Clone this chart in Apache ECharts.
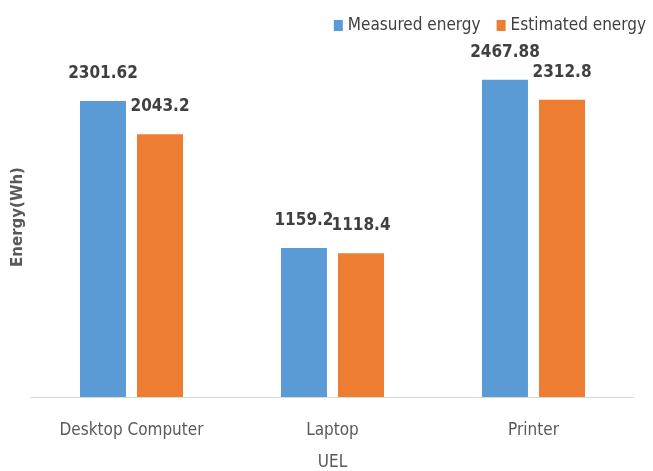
<!DOCTYPE html>
<html>
<head>
<meta charset="utf-8">
<script src="https://cdn.jsdelivr.net/npm/echarts@6/dist/echarts.min.js"></script>
<style>
html,body{margin:0;padding:0;background:#fff;}
#chart{width:653px;height:471px;}
</style>
</head>
<body>
<div id="chart"></div>
<script>
var categories = ['Desktop Computer', 'Laptop', 'Printer'];
var measured = [2301.62, 1159.2, 2467.88];
var estimated = [2043.2, 1118.4, 2312.8];
var seriesNames = ['Measured energy', 'Estimated energy'];

var FONT = "'Liberation Sans Narrow', 'DejaVu Sans Condensed', 'Arial Narrow', sans-serif";
var chart = echarts.init(document.getElementById('chart'), null, {renderer: 'canvas'});
var labelStyle = {
  show: true, position: 'top', distance: 19,
  fontFamily: FONT, fontWeight: 'bold', fontSize: 17, color: '#404040',
  formatter: function (p) { return String(p.value); }
};
chart.setOption({
  animation: false,
  backgroundColor: '#ffffff',
  textStyle: {fontFamily: FONT},
  legend: {
    top: 12, right: 2, itemWidth: 9, itemHeight: 11, itemGap: 16,
    icon: 'rect',
    textStyle: {fontFamily: FONT, fontSize: 17, color: '#404040'},
    data: seriesNames
  },
  grid: {left: 31, right: 19, top: 37, bottom: 74, containLabel: false, outerBoundsMode: 'none'},
  xAxis: {
    type: 'category', data: categories,
    name: 'UEL', nameLocation: 'middle', nameGap: 57,
    nameTextStyle: {fontFamily: FONT, fontSize: 17, color: '#595959'},
    axisLine: {lineStyle: {color: '#D9D9D9', width: 1}},
    axisTick: {show: false},
    axisLabel: {interval: 0, margin: 25, fontFamily: FONT, fontSize: 17, color: '#595959'}
  },
  yAxis: {
    type: 'value', min: 0, max: 2800,
    name: 'Energy(Wh)', nameLocation: 'middle', nameGap: 5,
    nameTextStyle: {fontFamily: 'DejaVu Sans', fontWeight: 'bold', fontSize: 15, color: '#595959'},
    axisLine: {show: false}, axisTick: {show: false},
    axisLabel: {show: false}, splitLine: {show: false}
  },
  series: [
    {name: seriesNames[0], type: 'bar', data: measured, barWidth: 46, barGap: '24%',
     itemStyle: {color: '#5B9BD5'}, label: labelStyle},
    {name: seriesNames[1], type: 'bar', data: estimated, barWidth: 46,
     itemStyle: {color: '#ED7D31'}, label: labelStyle}
  ]
});
</script>
</body>
</html>
